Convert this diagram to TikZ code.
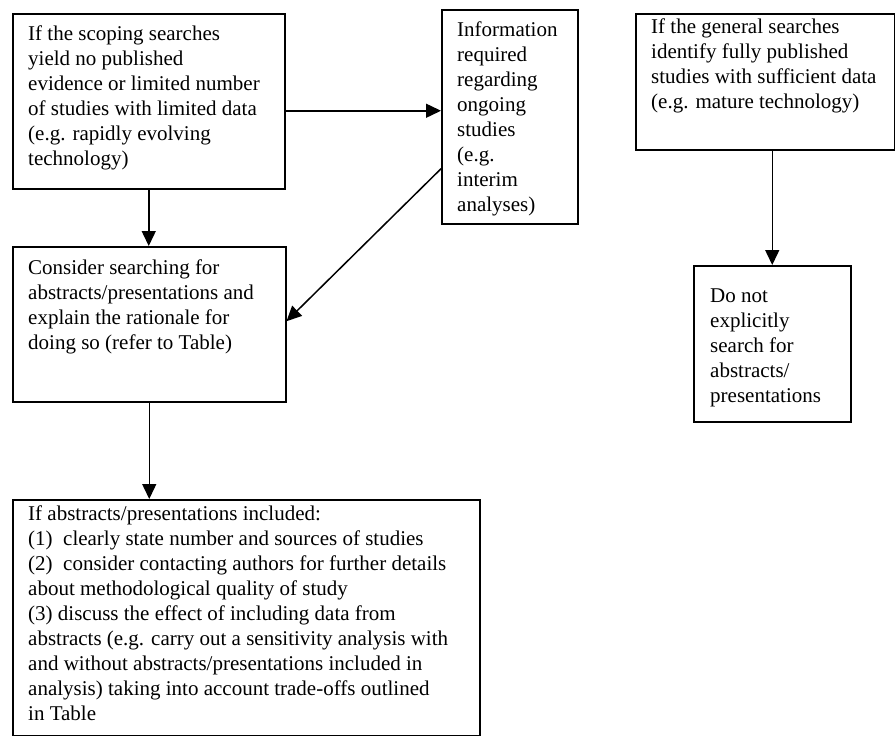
\documentclass[tikz,border=0pt]{standalone}
\usepackage{fontspec}
\setmainfont{Liberation Serif}
\usetikzlibrary{arrows.meta}
\begin{document}
\begin{tikzpicture}[x=1pt,y=-1pt,
  box/.style={draw, line width=1.5pt, rectangle, inner sep=0pt, anchor=north west},
  txt/.style={anchor=north west, inner sep=0pt, align=left, font=\fontsize{21}{25}\selectfont},
  arr/.style={line width=1.5pt, -{Triangle[length=15pt,width=14pt]}}]
\useasboundingbox (0,0) rectangle (895,736);
\node[box, minimum width=272pt, minimum height=175pt] (b1) at (12,13) {};
\node[box, minimum width=136pt, minimum height=214pt] (b2) at (441,9) {};
\node[box, minimum width=259pt, minimum height=136pt] (b3) at (635,13) {};
\node[box, minimum width=273pt, minimum height=155pt] (b4) at (12,246) {};
\node[box, minimum width=157pt, minimum height=156pt] (b5) at (693,265) {};
\node[box, minimum width=467pt, minimum height=236pt] (b6) at (12,499) {};

\node[txt] (t1) at (28,22.5) {\strut If the scoping searches\\yield no published\\evidence or limited number\\of studies with limited data\\(e.g. rapidly evolving\\technology)};
\node[txt] (t2) at (457,18.5) {\strut Information\\required\\regarding\\ongoing\\studies\\(e.g.\\interim\\analyses)};
\node[txt] (t3) at (651,15.5) {\strut If the general searches\\identify fully published\\studies with sufficient data\\(e.g. mature technology)};
\node[txt] (t4) at (28,256.5) {\strut Consider searching for\\abstracts/presentations and\\explain the rationale for\\doing so (refer to Table)};
\node[txt] (t5) at (710,284.5) {\strut Do not\\explicitly\\search for\\abstracts/\\presentations};
\node[txt] (t6) at (28,502.5) {\strut If abstracts/presentations included:\\(1)\ \ clearly state number and sources of studies\\(2)\ \ consider contacting authors for further details\\about methodological quality of study\\(3) discuss the effect of including data from\\abstracts (e.g. carry out a sensitivity analysis with\\and without abstracts/presentations included in\\analysis) taking into account trade-offs outlined\\in Table};

\draw[arr] (b1.south) -- (b1.south |- b4.north);
\draw[arr] ([yshift=-9.5pt]b1.east) -- ([yshift=-9.5pt]b1.east -| b2.west);
\draw[arr] ([yshift=-52pt]b2.west) -- ([yshift=3pt]b4.east);
\draw[arr] (b4.south) -- (b4.south |- b6.north);
\draw[arr] (b5.north |- b3.south) -- (b5.north);
\end{tikzpicture}
\end{document}
